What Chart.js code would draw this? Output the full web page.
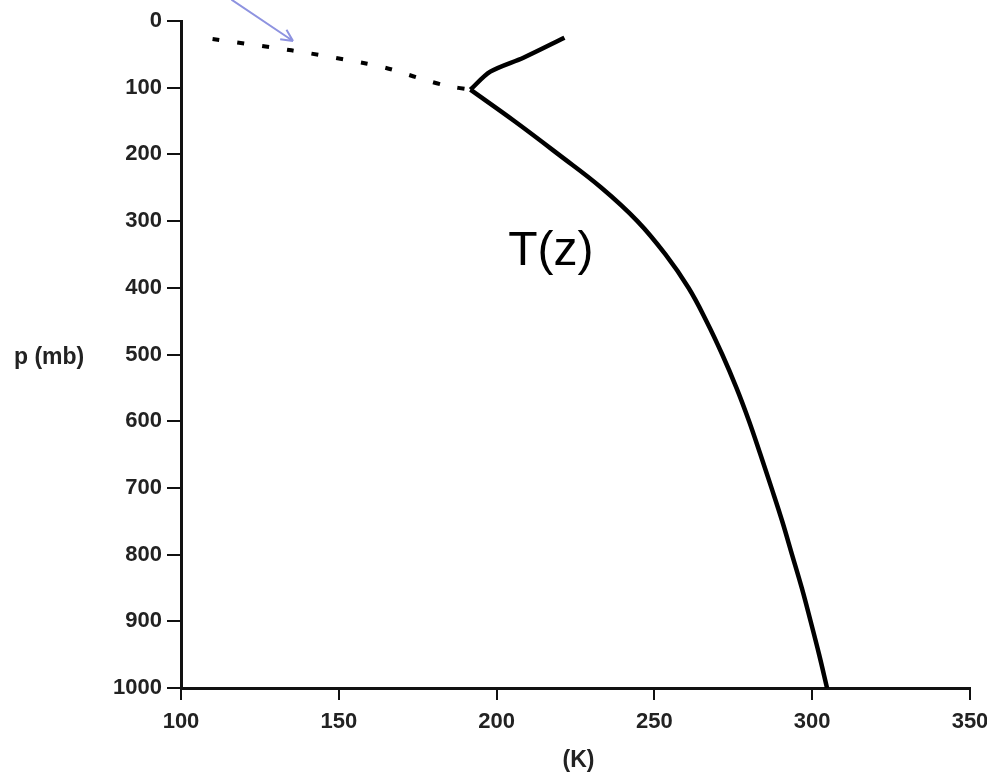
<!DOCTYPE html>
<html>
<head>
<meta charset="utf-8">
<script src="https://cdn.jsdelivr.net/npm/chart.js@4.4.1/dist/chart.umd.min.js"></script>
<style>
  html, body { margin: 0; padding: 0; background: #fff; }
  canvas { display: block; }
</style>
</head>
<body>
<canvas id="profile" width="987" height="772"></canvas>
<script>
// ================= DATA =================
// lower branch of T(z): troposphere, from the kink down to the surface
const tropPres = [103, 150, 200, 250, 300, 350, 400, 450, 500, 550, 600, 650, 700, 750, 800, 850, 900, 950, 1000];
const tropTemp = [191.7, 205.6, 219.6, 233.2, 244.6, 253.5, 260.8, 266.5, 271.5, 276.0, 280.0, 283.6, 287.1, 290.5, 293.6, 296.7, 299.5, 302.2, 304.7];

// upper branch of T(z) above the kink
const stratTemp = [191.7, 198, 208.5, 221.5];
const stratPres = [103, 76, 55, 25];

// dotted extension
const dotTemp = [110, 135, 159, 167, 175, 184, 191.7];
const dotPres = [27, 44, 64, 73, 85, 97, 103];

// axis ranges / ticks
const xRange = [100, 350];
const yRange = [0, 1000];
const xMajor = 50, xMinor = 10;
const yMajor = 100, yMinor = 20;

// annotations (data units)
const curveLabel = { text: "T(z)", t: 203.7, p: 366 };
const arrowFrom = [116, -32];
const arrowTo = [135.5, 30];

function toPoints(ts, ps) {
  return ts.map((t, i) => ({ x: t, y: ps[i] }));
}

// ================= PLUGIN: minor ticks + labels =================
const extras = {
  id: "extras",
  afterDraw(chart) {
    const ctx = chart.ctx;
    const xs = chart.scales.x;
    const ys = chart.scales.y;
    const area = chart.chartArea;

    ctx.save();
    ctx.strokeStyle = "#111";
    ctx.lineWidth = 2;
    // minor ticks y
    ys.ticks.forEach(tk => {
      if (tk.value % yMajor === 0) return;
      const py = ys.getPixelForValue(tk.value);
      ctx.beginPath();
      ctx.moveTo(area.left - 6, py);
      ctx.lineTo(area.left + 1, py);
      ctx.stroke();
    });
    // minor ticks x
    xs.ticks.forEach(tk => {
      if (tk.value % xMajor === 0) return;
      const px = xs.getPixelForValue(tk.value);
      ctx.beginPath();
      ctx.moveTo(px, area.bottom - 1);
      ctx.lineTo(px, area.bottom + 5);
      ctx.stroke();
    });

    // T(z) label
    ctx.fillStyle = "#000";
    ctx.font = "48px 'Liberation Sans', Arial, sans-serif";
    ctx.textAlign = "left";
    ctx.textBaseline = "alphabetic";
    ctx.fillText(curveLabel.text, xs.getPixelForValue(curveLabel.t), ys.getPixelForValue(curveLabel.p));

    // axis titles
    ctx.font = "bold 23px 'Liberation Sans', Arial, sans-serif";
    ctx.fillStyle = "#222";
    ctx.textBaseline = "middle";
    ctx.fillText("p (mb)", 14, ys.getPixelForValue(505));
    ctx.textAlign = "center";
    ctx.fillText("(K)", (area.left + area.right) / 2 + 3, 761);

    // blue arrow
    const x0 = xs.getPixelForValue(arrowFrom[0]), y0 = ys.getPixelForValue(arrowFrom[1]);
    const x1 = xs.getPixelForValue(arrowTo[0]), y1 = ys.getPixelForValue(arrowTo[1]);
    const ang = Math.atan2(y1 - y0, x1 - x0);
    ctx.strokeStyle = "#8e93e0";
    ctx.lineWidth = 2;
    ctx.beginPath();
    ctx.moveTo(x0, y0);
    ctx.lineTo(x1, y1);
    ctx.moveTo(x1, y1);
    ctx.lineTo(x1 - 13 * Math.cos(ang - 0.45), y1 - 13 * Math.sin(ang - 0.45));
    ctx.moveTo(x1, y1);
    ctx.lineTo(x1 - 13 * Math.cos(ang + 0.45), y1 - 13 * Math.sin(ang + 0.45));
    ctx.stroke();
    ctx.restore();
  }
};

// ================= CHART =================
const tickFont = { family: "'Liberation Sans', Arial, sans-serif", size: 22, weight: "bold" };

new Chart(document.getElementById("profile"), {
  type: "scatter",
  data: {
    datasets: [
      {
        data: toPoints(tropTemp, tropPres),
        showLine: true,
        borderColor: "#000",
        borderWidth: 4.5,
        pointRadius: 0,
        tension: 0.4
      },
      {
        data: toPoints(stratTemp, stratPres),
        showLine: true,
        borderColor: "#000",
        borderWidth: 4.5,
        pointRadius: 0,
        tension: 0.3
      },
      {
        data: toPoints(dotTemp, dotPres),
        showLine: true,
        borderColor: "#000",
        borderWidth: 4,
        borderDash: [7, 18],
        pointRadius: 0,
        tension: 0.3
      }
    ]
  },
  options: {
    responsive: false,
    animation: false,
    devicePixelRatio: 1,
    layout: { padding: { left: 0, top: 21, right: 17, bottom: 0 } },
    plugins: { legend: { display: false }, tooltip: { enabled: false } },
    scales: {
      x: {
        type: "linear",
        min: xRange[0],
        max: xRange[1],
        afterFit: s => { s.height = 84; s.paddingRight = 0; },
        border: { color: "#111", width: 3 },
        grid: {
          drawOnChartArea: false,
          drawTicks: true,
          tickLength: 12,
          lineWidth: 2,
          color: c => (c.tick && c.tick.value % xMajor === 0 ? "#111" : "rgba(0,0,0,0)")
        },
        ticks: {
          stepSize: xMinor,
          autoSkip: false,
          maxRotation: 0,
          padding: 9,
          color: "#222",
          font: tickFont,
          callback: v => (v % xMajor === 0 ? v : null)
        }
      },
      y: {
        type: "linear",
        min: yRange[0],
        max: yRange[1],
        reverse: true,
        afterFit: s => { s.width = 181; },
        border: { color: "#111", width: 3 },
        grid: {
          drawOnChartArea: false,
          drawTicks: true,
          tickLength: 14,
          lineWidth: 2,
          color: c => (c.tick && c.tick.value % yMajor === 0 ? "#111" : "rgba(0,0,0,0)")
        },
        ticks: {
          stepSize: yMinor,
          autoSkip: false,
          padding: 5,
          color: "#222",
          font: tickFont,
          callback: v => (v % yMajor === 0 ? v : null)
        }
      }
    }
  },
  plugins: [extras]
});
</script>
</body>
</html>
